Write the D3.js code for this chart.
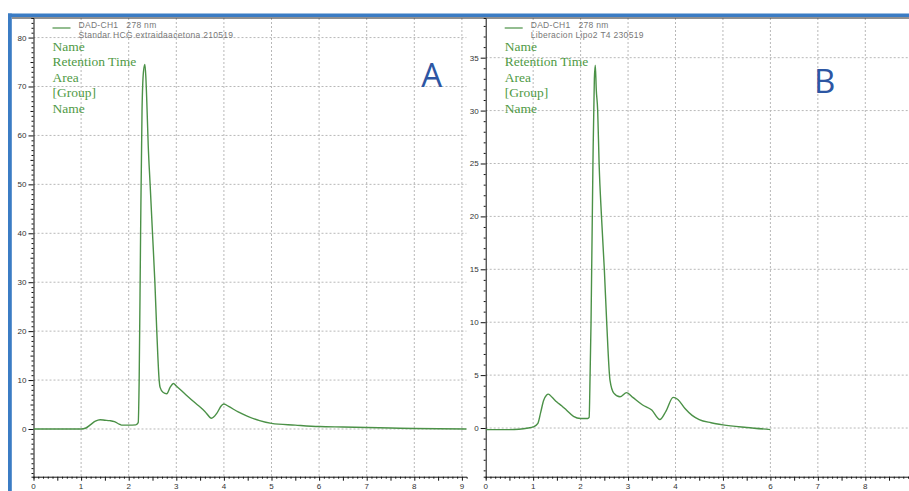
<!DOCTYPE html>
<html>
<head>
<meta charset="utf-8">
<script src="https://cdn.jsdelivr.net/npm/d3@7"></script>
<style>
  body { margin: 0; background: #fff; }
  svg { display: block; }
  .leg { white-space: pre; }
</style>
</head>
<body>
<svg id="chart"></svg>
<script>
// Chromatogram data (time in min, signal in mAU)
const timesA = [0, 0.5, 1.0, 1.1, 1.2, 1.3, 1.4, 1.5, 1.6, 1.7, 1.8, 1.85, 2.0, 2.15, 2.2, 2.22, 2.25, 2.28, 2.31, 2.34, 2.36, 2.38, 2.41, 2.45, 2.50, 2.55, 2.59, 2.64, 2.66, 2.72, 2.80, 2.87, 2.94, 3.0, 3.2, 3.4, 3.5, 3.6, 3.74, 3.85, 3.95, 4.0, 4.1, 4.3, 4.5, 4.75, 5.0, 5.5, 6.0, 6.5, 7.0, 7.5, 8.0, 8.5, 9.1];
const signalA = [0, 0, 0, 0.2, 0.9, 1.6, 1.9, 1.8, 1.7, 1.5, 1.0, 0.8, 0.8, 0.85, 1.3, 10, 40, 65, 73, 74.5, 72, 67, 58, 50, 40, 30, 20, 10, 8.5, 7.5, 7.2, 8.5, 9.3, 8.8, 7.0, 5.3, 4.5, 3.6, 2.2, 3.2, 4.8, 5.1, 4.6, 3.5, 2.6, 1.7, 1.15, 0.8, 0.5, 0.4, 0.3, 0.2, 0.1, 0.05, 0];

const timesB = [0, 0.5, 0.7, 0.9, 1.0, 1.1, 1.16, 1.22, 1.28, 1.32, 1.4, 1.5, 1.6, 1.7, 1.85, 2.0, 2.15, 2.18, 2.20, 2.22, 2.26, 2.29, 2.31, 2.33, 2.36, 2.39, 2.44, 2.50, 2.55, 2.62, 2.7, 2.83, 2.97, 3.1, 3.3, 3.5, 3.67, 3.8, 3.95, 4.05, 4.2, 4.35, 4.5, 4.75, 5.0, 5.5, 6.0];
const signalB = [-0.15, -0.15, -0.12, 0, 0.1, 0.45, 1.5, 2.6, 3.1, 3.2, 2.9, 2.45, 2.1, 1.7, 1.1, 0.9, 0.9, 1.0, 5, 10, 25, 33, 34.3, 32, 30, 25, 20, 15, 10, 4.5, 3.3, 2.95, 3.35, 2.9, 2.2, 1.7, 0.8, 1.6, 2.9, 2.7, 1.85, 1.2, 0.8, 0.5, 0.3, 0.05, -0.15];

const xTicks = [0, 1, 2, 3, 4, 5, 6, 7, 8, 9];
const yTicksA = [0, 10, 20, 30, 40, 50, 60, 70, 80];
const yTicksB = [0, 5, 10, 15, 20, 25, 30, 35];

const legendA = ['DAD-CH1   278 nm', 'Standar HCG extraidaacetona 210519'];
const legendB = ['DAD-CH1   278 nm', 'Liberacion Lipo2 T4 230519'];
const peakLabels = ['Name', 'Retention Time', 'Area', '[Group]', 'Name'];

const width = 909;
const height = 491;
const green = '#4b9147';

let svg = d3.select('#chart')
    .attr('width', width)
    .attr('height', height);

svg.append('rect').attr('width', width).attr('height', height).attr('fill', '#fff');

// one chromatogram panel
function drawPanel(opt) {
    let x = d3.scaleLinear().domain([0, 9.1]).range([opt.left, opt.left + 9.1 * opt.xStep]);
    let y = d3.scaleLinear().domain(opt.yDomain).range([476.7, 18]);

    let clipId = 'clip-' + opt.name;
    svg.append('clipPath').attr('id', clipId)
      .append('rect')
        .attr('x', opt.left).attr('y', 18)
        .attr('width', Math.min(opt.left + 9.1 * opt.xStep, width) - opt.left)
        .attr('height', 476.7 - 18);

    let g = svg.append('g');

    // dashed grid
    let grid = g.append('g').attr('clip-path', 'url(#' + clipId + ')')
        .attr('stroke', '#b8b8b8').attr('stroke-width', 1).attr('stroke-dasharray', '2,2');
    grid.selectAll('.vx').data(xTicks.filter(d => d > 0)).enter().append('line')
        .attr('x1', d => x(d)).attr('x2', d => x(d))
        .attr('y1', 18).attr('y2', 476.7);
    grid.selectAll('.hy').data(opt.yTicks).enter().append('line')
        .attr('x1', opt.left).attr('x2', x(9.1))
        .attr('y1', d => y(d)).attr('y2', d => y(d));

    // x axis
    let xAxis = g.append('g')
        .attr('transform', 'translate(0,476.7)')
        .call(d3.axisBottom(x).tickValues(d3.range(0, 91).map(d => d / 10)).tickSize(2).tickFormat(''));
    xAxis.select('.domain').attr('stroke', '#111');
    xAxis.selectAll('.tick line').attr('stroke', '#111')
        .attr('y2', d => (Math.round(d * 10) % 5 === 0 ? 4 : 2));
    g.selectAll('.xlab').data(xTicks.filter(d => x(d) < width - 6)).enter().append('text')
        .attr('x', d => x(d)).attr('y', 489)
        .attr('text-anchor', 'middle')
        .attr('font-family', 'Liberation Sans, Arial, sans-serif')
        .attr('font-size', 8).attr('fill', '#333')
        .text(d => d);

    // y axis
    let minor = d3.range(Math.ceil(opt.yDomain[0]), Math.floor(opt.yDomain[1]) + 1);
    let yAxis = g.append('g')
        .attr('transform', 'translate(' + opt.left + ',0)')
        .call(d3.axisLeft(y).tickValues(minor).tickSize(2).tickFormat(''));
    yAxis.select('.domain').attr('stroke', '#111');
    yAxis.selectAll('.tick line').attr('stroke', '#111')
        .attr('x2', d => (opt.yTicks.includes(d) ? -5 : (d % opt.half === 0 ? -3 : -2)));
    g.selectAll('.ylab').data(opt.yTicks).enter().append('text')
        .attr('x', opt.left - 7).attr('y', d => y(d) + 3)
        .attr('text-anchor', 'end')
        .attr('font-family', 'Liberation Sans, Arial, sans-serif')
        .attr('font-size', 8).attr('fill', '#333')
        .text(d => d);

    // trace
    let line = d3.line()
        .x(d => x(d[0]))
        .y(d => y(d[1]))
        .curve(d3.curveMonotoneX);
    g.append('path')
        .datum(d3.zip(opt.times, opt.signal))
        .attr('clip-path', 'url(#' + clipId + ')')
        .attr('d', line)
        .attr('fill', 'none')
        .attr('stroke', green)
        .attr('stroke-width', 1.4);

    // legend
    let lx = opt.left + 19;
    g.append('line')
        .attr('x1', lx).attr('x2', lx + 18).attr('y1', 28).attr('y2', 28)
        .attr('stroke', green).attr('stroke-width', 1.2);
    g.selectAll('.leg').data(opt.legend).enter().append('text')
        .attr('class', 'leg')
        .attr('x', lx + 26).attr('y', (d, i) => 27.5 + i * 10)
        .attr('font-family', 'Liberation Sans, Arial, sans-serif')
        .attr('font-size', 8.5).attr('letter-spacing', 0.3).attr('fill', '#777')
        .text(d => d);

    g.selectAll('.pk').data(peakLabels).enter().append('text')
        .attr('x', lx).attr('y', (d, i) => 50.5 + i * 15.5)
        .attr('font-family', 'Liberation Serif, Times New Roman, serif')
        .attr('font-size', 13.5).attr('fill', '#4f9a45')
        .text(d => d);

    // panel letter
    g.append('text')
        .attr('x', opt.letterX).attr('y', opt.letterY)
        .attr('text-anchor', 'middle')
        .attr('font-family', 'Open Sans, Liberation Sans, sans-serif')
        .attr('font-size', 33).attr('fill', '#2d56a3')
        .text(opt.name);
}

drawPanel({
    name: 'A', left: 33.5, xStep: 47.6, yDomain: [-9.75, 84],
    yTicks: yTicksA, half: 5, times: timesA, signal: signalA,
    legend: legendA, letterX: 431.7, letterY: 87.3
});

drawPanel({
    name: 'B', left: 485.7, xStep: 47.45, yDomain: [-4.6, 38.75],
    yTicks: yTicksB, half: 5, times: timesB, signal: signalB,
    legend: legendB, letterX: 824.7, letterY: 92.7
});

// frame: blue rule on top and left, thin dark line under it
svg.append('line').attr('x1', 12).attr('x2', width).attr('y1', 18).attr('y2', 18)
    .attr('stroke', '#222').attr('stroke-width', 1);
svg.append('rect').attr('x', 8).attr('y', 13.5).attr('width', width - 8).attr('height', 3.5)
    .attr('fill', '#3b7cc4');
svg.append('rect').attr('x', 8).attr('y', 13.5).attr('width', 3.8).attr('height', height - 13.5)
    .attr('fill', '#3b7cc4');
</script>
</body>
</html>
